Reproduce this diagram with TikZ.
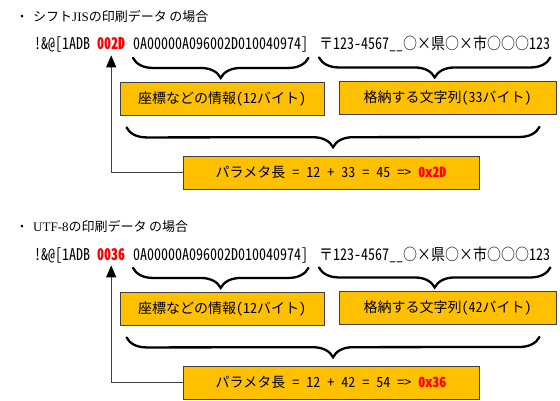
\documentclass[tikz,border=0pt]{standalone}
\usepackage{fontspec}
\setmainfont{Noto Sans CJK JP}
\newfontfamily\jp{Noto Sans CJK JP}
\newfontfamily\jph{Noto Sans CJK JP}[RawFeature=+hwid]
\newfontfamily\jpf{Noto Sans CJK JP}[RawFeature=+fwid]
\newfontfamily\latserif{Liberation Serif}
\newcommand\tallcode[1]{\scalebox{1}[1.15]{#1}}
\usetikzlibrary{arrows.meta,decorations.pathreplacing}
\definecolor{boxfill}{HTML}{FFC000}
\definecolor{boxline}{HTML}{3F3F3F}
\definecolor{connc}{HTML}{404040}
\definecolor{hexred}{HTML}{FF0000}
\begin{document}
\begin{tikzpicture}[x=1pt,y=-1pt,
  every node/.style={inner sep=0pt, font=\jp\fontsize{14}{16}\selectfont},
  code/.style={anchor=base west},
  hexnum/.style={code, text=hexred, font=\jph\bfseries\fontsize{14}{16}\selectfont},
  title/.style={anchor=base west, font=\jp\fontsize{13}{15}\selectfont},
  bul/.style={font=\jph\fontsize{10}{12}\selectfont},
  obox/.style={draw=boxline, fill=boxfill, line width=0.9pt, minimum height=33pt},
  brc/.style={draw=black, line width=2.3pt, line cap=round, decorate,
              decoration={brace, mirror, amplitude=20pt}},
  conn/.style={draw=connc, line width=1.4pt, shorten >=5pt,
               -{Triangle[length=12pt,width=10pt,color=black]}},
]
\useasboundingbox (0,0) rectangle (560,401);

% ---------- Shift JIS ----------
\node[bul] (bul1) at (22,17) {•};
\node[title] (tit1) at (33,22) {シフト{\latserif JIS}の印刷データ\hspace*{0.2em}の場合};
\node[code] (pre1) at (34,50) {\tallcode{\jph !\&@[1ADB}};
\node[hexnum] (len1) at (97,50) {\tallcode{002D}};
\node[code] (prm1) at (133,50) {\tallcode{\jph 0A00000A096002D010040974]}};
\node[code] (adr1) at (319,50) {\tallcode{〒{\jph 123-4567\_\_}{\jpf ○×県○×市○○○}{\jph 123}}};
\draw[brc] ([yshift=-5pt]prm1.south west) -- ([yshift=-5pt]prm1.south east);
\draw[brc] ([yshift=-5pt]adr1.south west) -- ([yshift=-5pt]adr1.south east);
\node[obox, minimum width=204pt] (inf1) at (222,98.5) {座標などの情報{\jph (12}バイト{\jph )}};
\node[obox, minimum width=217pt] (str1) at (447.5,98) {格納する文字列{\jph (33}バイト{\jph )}};
\draw[brc] ([shift={(7pt,-12pt)}]inf1.south west) -- ([shift={(-17pt,-12pt)}]str1.south east);
\node[obox, minimum width=296pt] (pl1) at (331,172.5) {パラメタ長{\jph\ = 12 + 33 = 45 => }{\jph\bfseries\color{hexred}0x2D}};
\draw[conn] (pl1.west) -| (len1.south);

% ---------- UTF-8 ----------
\begin{scope}[yshift=-210pt]
\node[bul] (bul2) at (22,17) {•};
\node[title] (tit2) at (33,22) {{\latserif UTF-8}の印刷データ\hspace*{0.2em}の場合};
\node[code] (pre2) at (34,50) {\tallcode{\jph !\&@[1ADB}};
\node[hexnum] (len2) at (97,50) {\tallcode{0036}};
\node[code] (prm2) at (133,50) {\tallcode{\jph 0A00000A096002D010040974]}};
\node[code] (adr2) at (319,50) {\tallcode{〒{\jph 123-4567\_\_}{\jpf ○×県○×市○○○}{\jph 123}}};
\draw[brc] ([yshift=-5pt]prm2.south west) -- ([yshift=-5pt]prm2.south east);
\draw[brc] ([yshift=-5pt]adr2.south west) -- ([yshift=-5pt]adr2.south east);
\node[obox, minimum width=204pt] (inf2) at (222,98.5) {座標などの情報{\jph (12}バイト{\jph )}};
\node[obox, minimum width=217pt] (str2) at (447.5,98) {格納する文字列{\jph (42}バイト{\jph )}};
\draw[brc] ([shift={(7pt,-12pt)}]inf2.south west) -- ([shift={(-17pt,-12pt)}]str2.south east);
\node[obox, minimum width=296pt] (pl2) at (331,172.5) {パラメタ長{\jph\ = 12 + 42 = 54 => }{\jph\bfseries\color{hexred}0x36}};
\draw[conn] (pl2.west) -| (len2.south);
\end{scope}
\end{tikzpicture}
\end{document}
